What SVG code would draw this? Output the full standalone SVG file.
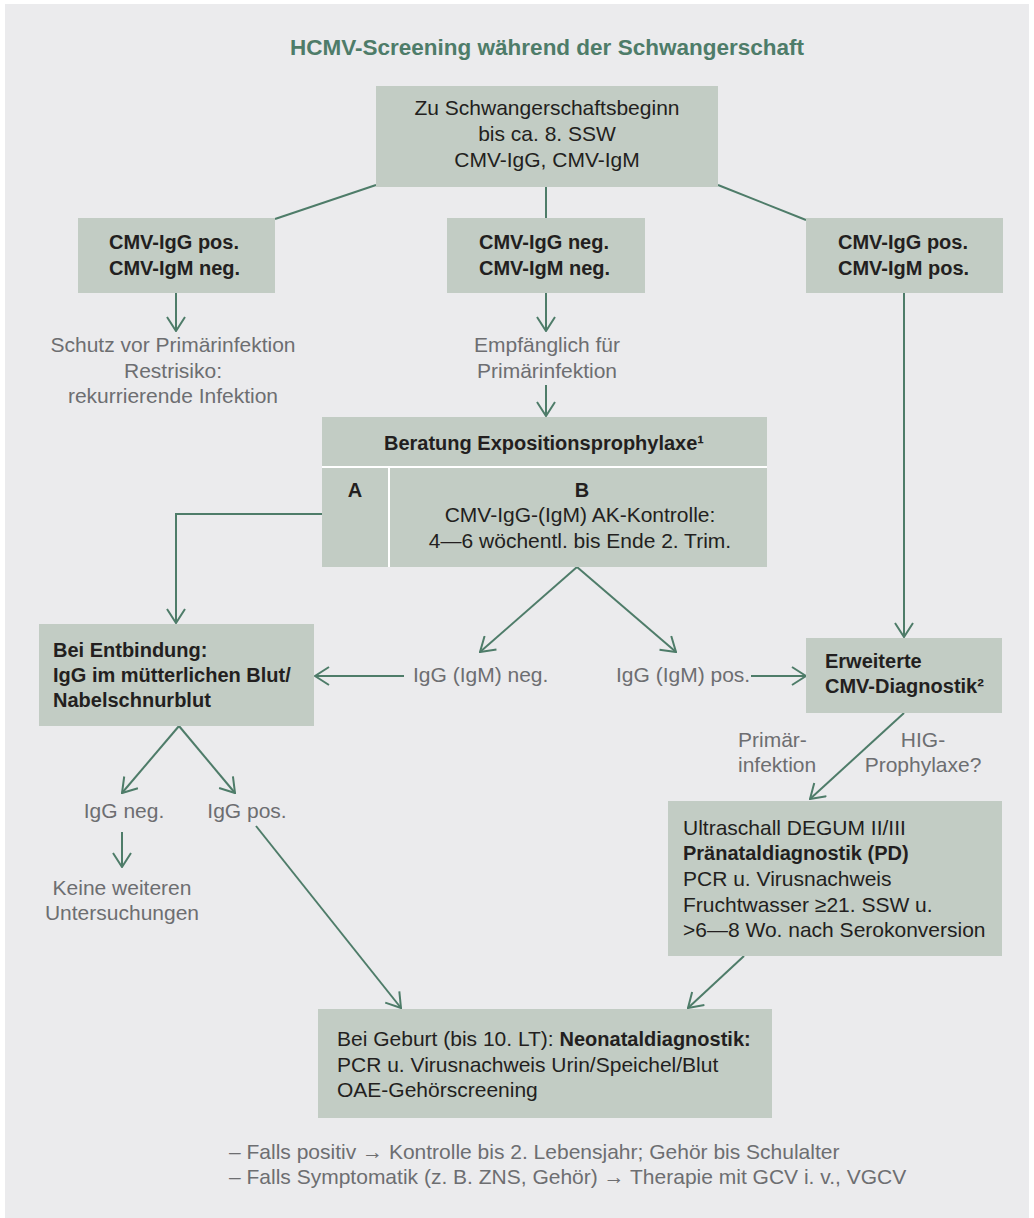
<svg xmlns="http://www.w3.org/2000/svg" width="1034" height="1218" viewBox="0 0 1034 1218">
<defs>
<style>
.bg{fill:#EBEBED}
.box{fill:#C2CCC4}
.t{font-family:"Liberation Sans",Arial,sans-serif;font-size:21px;fill:#231F20}
.b{font-family:"Liberation Sans",Arial,sans-serif;font-size:20px;font-weight:bold;fill:#231F20}
.g{font-family:"Liberation Sans",Arial,sans-serif;font-size:21px;fill:#6D6E71}
.title{font-family:"Liberation Sans",Arial,sans-serif;font-size:22.5px;font-weight:bold;fill:#4E7C69}
.c{stroke:#4E7C69;stroke-width:2;fill:none}
.a{stroke:#4E7C69;stroke-width:2;fill:none;marker-end:url(#ah)}
.sep{stroke:#FFFFFF;stroke-width:2}
.mid{text-anchor:middle}
</style>
<marker id="ah" markerUnits="userSpaceOnUse" viewBox="0 0 16 20" refX="15" refY="10" markerWidth="16" markerHeight="20" orient="auto">
<path d="M1,1 L15,10 L1,19" fill="none" stroke="#4E7C69" stroke-width="2"/>
</marker>
</defs>
<rect x="0" y="0" width="1034" height="1218" fill="#FFFFFF"/>
<rect class="bg" x="5" y="4" width="1024" height="1214"/>
<text class="title mid" x="547" y="55">HCMV-Screening während der Schwangerschaft</text>

<g id="connectors">
<line class="c" x1="376" y1="185" x2="275" y2="219"/>
<line class="c" x1="546" y1="187" x2="546" y2="218"/>
<line class="c" x1="718" y1="185" x2="806" y2="220"/>
<line class="a" x1="176" y1="293" x2="176" y2="331"/>
<line class="a" x1="546" y1="293" x2="546" y2="331"/>
<line class="a" x1="546" y1="385" x2="546" y2="416"/>
<line class="a" x1="904" y1="293" x2="904" y2="637"/>
<polyline class="a" points="322,514 176,514 176,623"/>
<line class="a" x1="577" y1="567" x2="480" y2="652"/>
<line class="a" x1="577" y1="567" x2="676" y2="652"/>
<line class="a" x1="404" y1="676" x2="315" y2="676"/>
<line class="a" x1="751" y1="676" x2="806" y2="676"/>
<line class="a" x1="904" y1="713" x2="810" y2="799"/>
<line class="a" x1="179" y1="726" x2="122" y2="793"/>
<line class="a" x1="179" y1="726" x2="235" y2="793"/>
<line class="a" x1="122" y1="832" x2="122" y2="867"/>
<line class="a" x1="256" y1="826" x2="401" y2="1008"/>
<line class="a" x1="744" y1="956" x2="688" y2="1008"/>
</g>

<g id="n-start">
<rect class="box" x="376" y="86" width="342" height="101"/>
<text class="t mid" x="547" y="115">Zu Schwangerschaftsbeginn</text>
<text class="t mid" x="547" y="141">bis ca. 8. SSW</text>
<text class="t mid" x="547" y="167">CMV-IgG, CMV-IgM</text>
</g>

<g id="n-posneg">
<rect class="box" x="78" y="218" width="197" height="75"/>
<text class="b" x="109" y="249">CMV-IgG pos.</text>
<text class="b" x="109" y="275">CMV-IgM neg.</text>
</g>

<g id="n-negneg">
<rect class="box" x="447" y="218" width="198" height="75"/>
<text class="b" x="479" y="249">CMV-IgG neg.</text>
<text class="b" x="479" y="275">CMV-IgM neg.</text>
</g>

<g id="n-pospos">
<rect class="box" x="806" y="218" width="197" height="75"/>
<text class="b" x="838" y="249">CMV-IgG pos.</text>
<text class="b" x="838" y="275">CMV-IgM pos.</text>
</g>

<g id="n-schutz">
<text class="g mid" x="173" y="352">Schutz vor Primärinfektion</text>
<text class="g mid" x="173" y="378">Restrisiko:</text>
<text class="g mid" x="173" y="403">rekurrierende Infektion</text>
</g>

<g id="n-empf">
<text class="g mid" x="547" y="352">Empfänglich für</text>
<text class="g mid" x="547" y="378">Primärinfektion</text>
</g>

<g id="n-beratung">
<rect class="box" x="322" y="417" width="445" height="150"/>
<line class="sep" x1="322" y1="467" x2="767" y2="467"/>
<line class="sep" x1="389" y1="467" x2="389" y2="567"/>
<text class="b mid" x="544" y="450">Beratung Expositionsprophylaxe¹</text>
<text class="b mid" x="355" y="497">A</text>
<text class="b mid" x="582" y="497">B</text>
<text class="t mid" x="580" y="522">CMV-IgG-(IgM) AK-Kontrolle:</text>
<text class="t mid" x="580" y="548">4—6 wöchentl. bis Ende 2. Trim.</text>
</g>

<g id="n-entbindung">
<rect class="box" x="39" y="624" width="275" height="102"/>
<text class="b" x="53" y="657">Bei Entbindung:</text>
<text class="b" x="53" y="682">IgG im mütterlichen Blut/</text>
<text class="b" x="53" y="707">Nabelschnurblut</text>
</g>

<g id="n-igg-igm-neg">
<text class="g" x="413" y="682">IgG (IgM) neg.</text>
</g>

<g id="n-igg-igm-pos">
<text class="g" x="616" y="682">IgG (IgM) pos.</text>
</g>

<g id="n-erweitert">
<rect class="box" x="806" y="638" width="196" height="75"/>
<text class="b" x="825" y="668">Erweiterte</text>
<text class="b" x="825" y="693">CMV-Diagnostik²</text>
</g>

<g id="l-primaer">
<text class="g" x="738" y="747">Primär-</text>
<text class="g" x="738" y="772">infektion</text>
</g>

<g id="l-hig">
<text class="g mid" x="923" y="747">HIG-</text>
<text class="g mid" x="923" y="772">Prophylaxe?</text>
</g>

<g id="n-ultraschall">
<rect class="box" x="668" y="801" width="334" height="155"/>
<text class="t" x="683" y="835">Ultraschall DEGUM II/III</text>
<text class="b" x="683" y="860">Pränataldiagnostik (PD)</text>
<text class="t" x="683" y="886">PCR u. Virusnachweis</text>
<text class="t" x="683" y="912">Fruchtwasser ≥21. SSW u.</text>
<text class="t" x="683" y="937">&gt;6—8 Wo. nach Serokonversion</text>
</g>

<g id="n-iggneg">
<text class="g mid" x="124" y="818">IgG neg.</text>
</g>

<g id="n-iggpos">
<text class="g mid" x="247" y="818">IgG pos.</text>
</g>

<g id="n-keine">
<text class="g mid" x="122" y="895">Keine weiteren</text>
<text class="g mid" x="122" y="920">Untersuchungen</text>
</g>

<g id="n-geburt">
<rect class="box" x="318" y="1009" width="454" height="109"/>
<text class="t" x="337" y="1046">Bei Geburt (bis 10. LT): <tspan style="font-weight:bold;font-size:20px">Neonataldiagnostik:</tspan></text>
<text class="t" x="337" y="1072">PCR u. Virusnachweis Urin/Speichel/Blut</text>
<text class="t" x="337" y="1097">OAE-Gehörscreening</text>
</g>

<g id="notes">
<text class="g" x="229" y="1159">– Falls positiv → Kontrolle bis 2. Lebensjahr; Gehör bis Schulalter</text>
<text class="g" x="229" y="1184">– Falls Symptomatik (z. B. ZNS, Gehör) → Therapie mit GCV i. v., VGCV</text>
</g>
</svg>
